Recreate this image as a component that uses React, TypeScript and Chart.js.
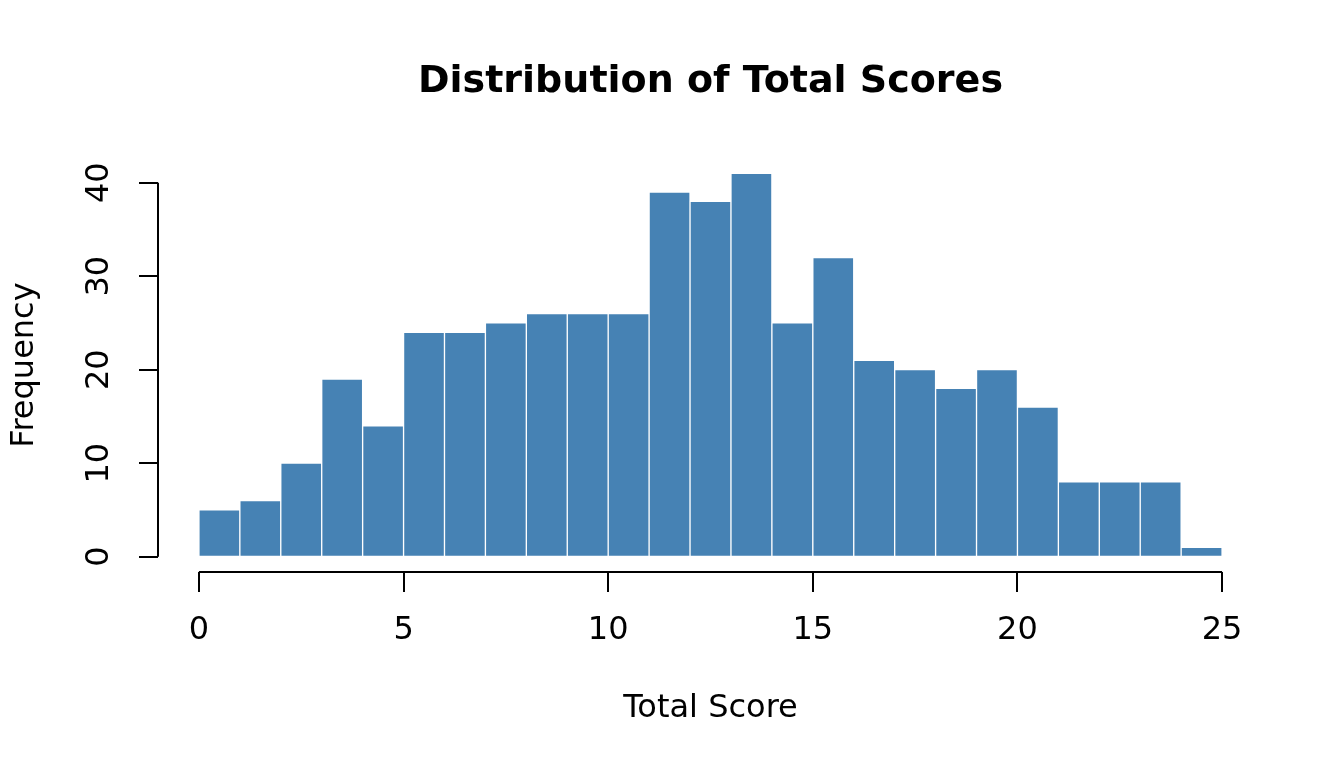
import { useEffect, useRef } from "react";
import { Chart, registerables, Plugin } from "chart.js";

Chart.register(...registerables);

// histogram bins (left edges), counts per bin, axis ticks
const binStarts = [0, 1, 2, 3, 4, 5, 6, 7, 8, 9, 10, 11, 12, 13, 14, 15, 16, 17, 18, 19, 20, 21, 22, 23, 24];
const counts = [5, 6, 10, 19, 14, 24, 24, 25, 26, 26, 26, 39, 38, 41, 25, 32, 21, 20, 18, 20, 16, 8, 8, 8, 1];
const xTicks = [0, 5, 10, 15, 20, 25];
const yTicks = [0, 10, 20, 30, 40];

const mainTitle = "Distribution of Total Scores";
const xTitle = "Total Score";
const yTitle = "Frequency";

const FONT = "'DejaVu Sans', sans-serif";

// R-style axes: line only spans first..last tick, y labels parallel to the axis
const baseAxes: Plugin<"bar"> = {
  id: "baseAxes",
  afterDraw(chart) {
    const { ctx, chartArea, scales } = chart;
    const x = scales.x;
    const y = scales.y;
    ctx.save();
    ctx.strokeStyle = "#000";
    ctx.lineWidth = 2;
    ctx.beginPath();
    ctx.moveTo(x.getPixelForValue(xTicks[0]), chartArea.bottom);
    ctx.lineTo(x.getPixelForValue(xTicks[xTicks.length - 1]), chartArea.bottom);
    ctx.moveTo(chartArea.left, y.getPixelForValue(yTicks[0]));
    ctx.lineTo(chartArea.left, y.getPixelForValue(yTicks[yTicks.length - 1]));
    ctx.stroke();

    ctx.fillStyle = "#000";
    ctx.font = `32px ${FONT}`;
    ctx.textAlign = "center";
    ctx.textBaseline = "middle";
    yTicks.forEach((v) => {
      ctx.save();
      ctx.translate(100, y.getPixelForValue(v));
      ctx.rotate(-Math.PI / 2);
      ctx.fillText(String(v), 0, 0);
      ctx.restore();
    });

    ctx.font = `bold 38px ${FONT}`;
    ctx.textBaseline = "alphabetic";
    ctx.fillText(mainTitle, (chartArea.left + chartArea.right) / 2, 92);
    ctx.restore();
  },
};

const App = () => {
  const canvasRef = useRef<HTMLCanvasElement | null>(null);

  useEffect(() => {
    const ctx = canvasRef.current?.getContext("2d");
    if (!ctx) return;

    const chart = new Chart(ctx, {
      type: "bar",
      data: {
        datasets: [
          {
            data: counts.map((c, i) => ({ x: binStarts[i] + 0.5, y: c })),
            backgroundColor: "#4682B4",
            borderColor: "#ffffff",
            borderWidth: 1,
            barPercentage: 1,
            categoryPercentage: 1,
          },
        ],
      },
      options: {
        animation: false,
        responsive: false,
        devicePixelRatio: 1,
        events: [],
        layout: { padding: { top: 158, right: 81, left: 0, bottom: 0 } },
        plugins: {
          legend: { display: false },
          tooltip: { enabled: false },
          title: { display: false },
        },
        scales: {
          x: {
            type: "linear",
            min: -1,
            max: 26,
            offset: false,
            afterBuildTicks: (s) => {
              s.ticks = xTicks.map((v) => ({ value: v }));
            },
            afterFit: (s) => {
              s.height = 196;
            },
            ticks: {
              color: "#000",
              font: { family: FONT, size: 32 },
              padding: 19,
              autoSkip: false,
              maxRotation: 0,
            },
            grid: {
              offset: false,
              drawOnChartArea: false,
              drawTicks: true,
              tickLength: 20,
              color: "#000",
              lineWidth: 2,
            },
            border: { display: false },
            title: {
              display: true,
              text: xTitle,
              color: "#000",
              font: { family: FONT, size: 32 },
              padding: { top: 0, bottom: 40 },
            },
          },
          y: {
            type: "linear",
            min: -1.64,
            max: 42.64,
            afterBuildTicks: (s) => {
              s.ticks = yTicks.map((v) => ({ value: v }));
            },
            afterFit: (s) => {
              s.width = 158;
            },
            ticks: { display: false },
            grid: {
              drawOnChartArea: false,
              drawTicks: true,
              tickLength: 19,
              color: "#000",
              lineWidth: 2,
            },
            border: { display: false },
            title: {
              display: true,
              text: yTitle,
              color: "#000",
              font: { family: FONT, size: 32 },
              padding: { top: 5, bottom: 0 },
            },
          },
        },
      },
      plugins: [baseAxes],
    });

    return () => {
      chart.destroy();
    };
  }, []);

  return (
    <div style={{ position: "absolute", left: 0, top: 0, width: 1344, height: 768, background: "#fff" }}>
      <canvas ref={canvasRef} width={1344} height={768}></canvas>
    </div>
  );
};

export default App;
